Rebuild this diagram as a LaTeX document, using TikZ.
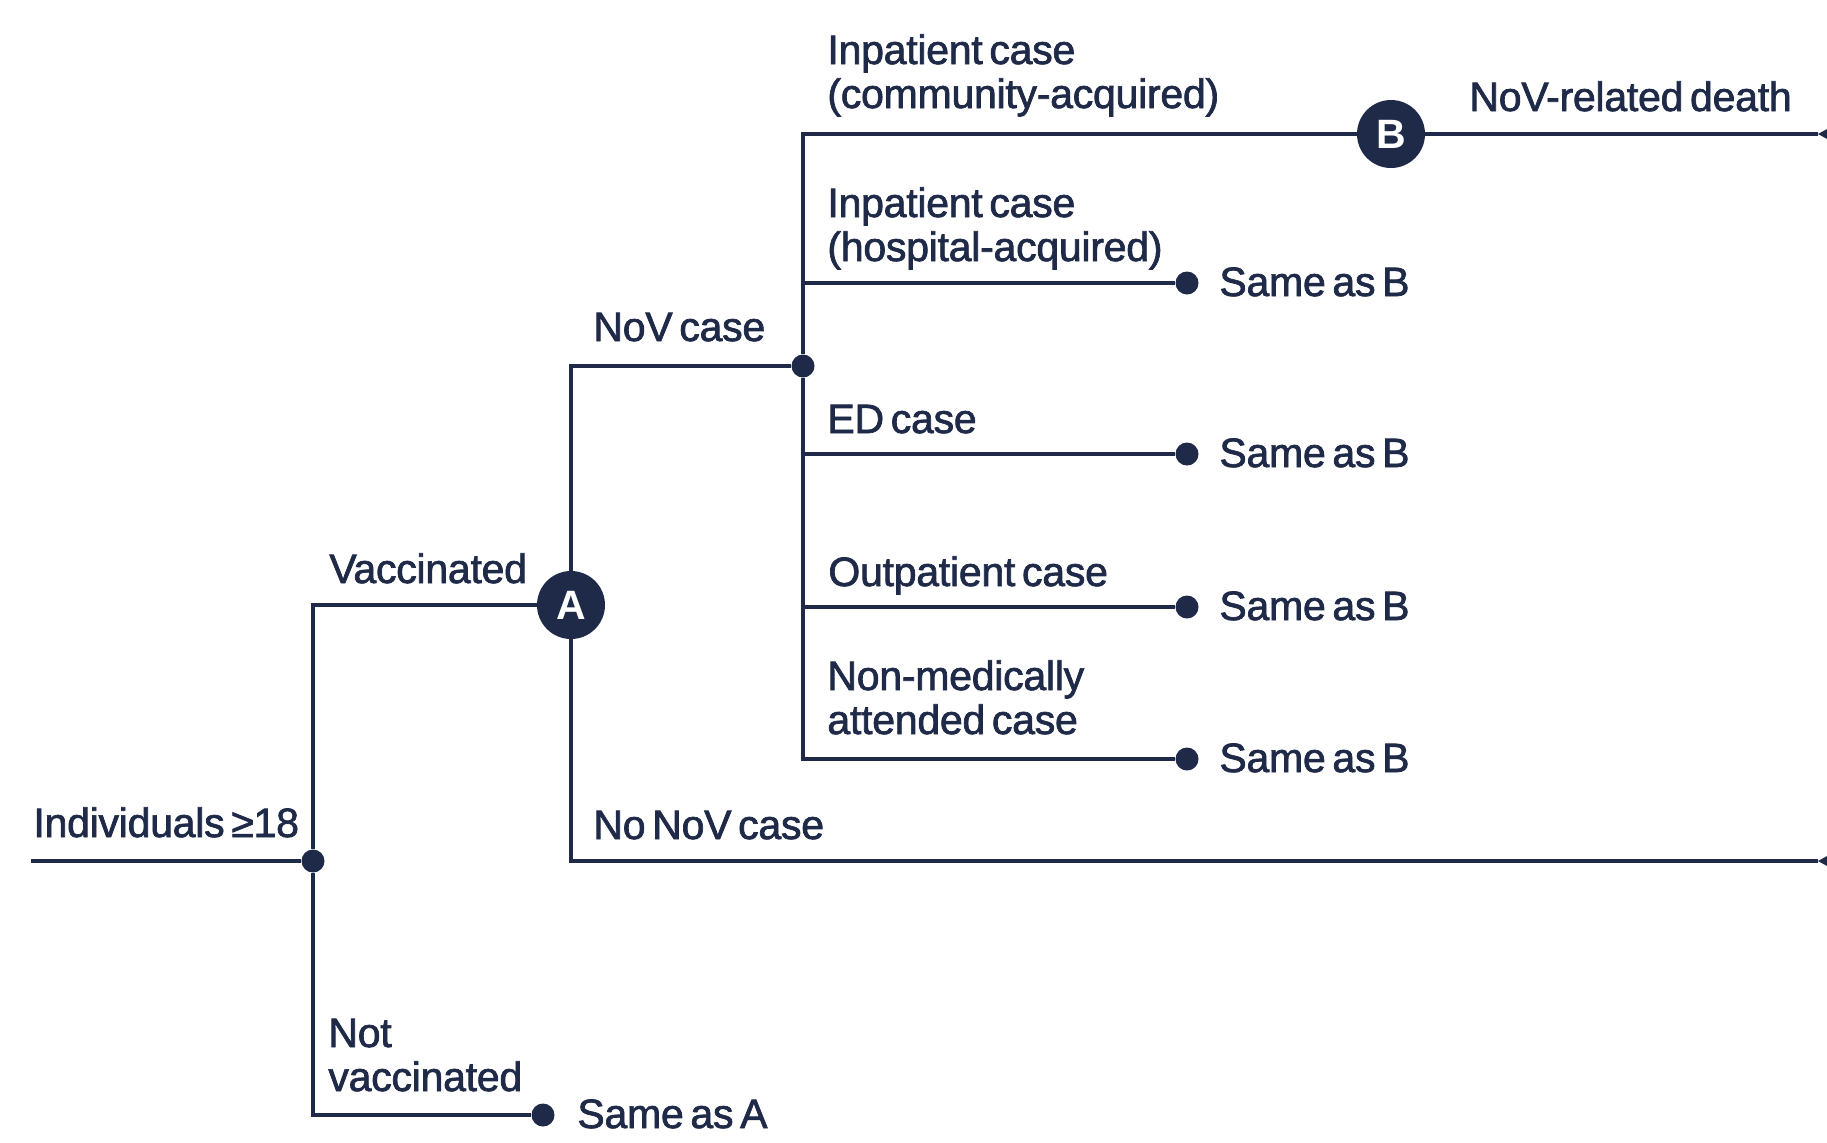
\documentclass[tikz,border=0pt]{standalone}
\usepackage{fontspec}
\newfontfamily\lblfont{Liberation Sans}[FakeBold=1.7,WordSpace=0.6,LetterSpace=-0.6]
\newfontfamily\capfont{Liberation Sans Bold}
\definecolor{navy}{RGB}{31,42,72}
\begin{document}
\begin{tikzpicture}[x=0.5pt,y=-0.5pt,
  line/.style={draw=navy,line width=1.7pt},
  lbl/.style={anchor=base west,inner sep=0pt,text=navy,align=left,
    font=\lblfont\fontsize{20.5}{22}\selectfont},
  bigdot/.style={circle,fill=navy,inner sep=0pt,minimum size=34pt,text=white,
    font=\capfont\fontsize{20.5}{20.5}\selectfont},
  smalldot/.style={circle,fill=navy,inner sep=0pt,minimum size=11.5pt},
  tip/.style={fill=navy}]
\clip (0,0) rectangle (1827,1142);
\fill[white] (0,0) rectangle (1827,1142);
% nodes
\coordinate (S) at (31,861);
\node[smalldot] (R) at (313,861) {};
\node[bigdot] (A) at (571,605) {A};
\node[smalldot] (NA) at (543,1115) {};
\node[smalldot] (C) at (803,366) {};
\node[bigdot] (B) at (1391,134) {B};
\node[smalldot] (D1) at (1187,283) {};
\node[smalldot] (D2) at (1187,454) {};
\node[smalldot] (D3) at (1187,607) {};
\node[smalldot] (D4) at (1187,759) {};
\coordinate (E1) at (1818,134);
\coordinate (E2) at (1818,861);
% terminal tips
\fill[tip] (E1) -- ++(20,-11) -- ++(0,22) -- cycle;
\fill[tip] (E2) -- ++(20,-11) -- ++(0,22) -- cycle;
% connectors
\draw[line] (S) -- (R);
\draw[line] (R) |- (A);
\draw[line] (R) |- (NA);
\draw[line] (A) |- (C);
\draw[line] (A) |- (E2);
\draw[line] (C) |- (B);
\draw[line] (B) -- (E1);
\draw[line] (C) |- (D1);
\draw[line] (C) |- (D2);
\draw[line] (C) |- (D3);
\draw[line] (C) |- (D4);
% labels (multi-line labels are placed by their last baseline)
\node[lbl] (t1) at (33,837) {Individuals ≥18};
\node[lbl] (t2) at (329,583) {Vaccinated};
\node[lbl] (t3) at (328,1091) {Not\\vaccinated};
\node[lbl] (t4) at (577,1128) {Same as A};
\node[lbl] (t5) at (593,341) {NoV case};
\node[lbl] (t6) at (593,839) {No NoV case};
\node[lbl] (t7) at (827,108) {Inpatient case\\(community-acquired)};
\node[lbl] (t8) at (1469,111) {NoV-related death};
\node[lbl] (t9) at (827,261) {Inpatient case\\(hospital-acquired)};
\node[lbl] (t10) at (827,433) {ED case};
\node[lbl] (t11) at (828,586) {Outpatient case};
\node[lbl] (t12) at (827,734) {Non-medically\\attended case};
\node[lbl] (s1) at (1219,296) {Same as B};
\node[lbl] (s2) at (1219,467) {Same as B};
\node[lbl] (s3) at (1219,620) {Same as B};
\node[lbl] (s4) at (1219,772) {Same as B};
\end{tikzpicture}
\end{document}
